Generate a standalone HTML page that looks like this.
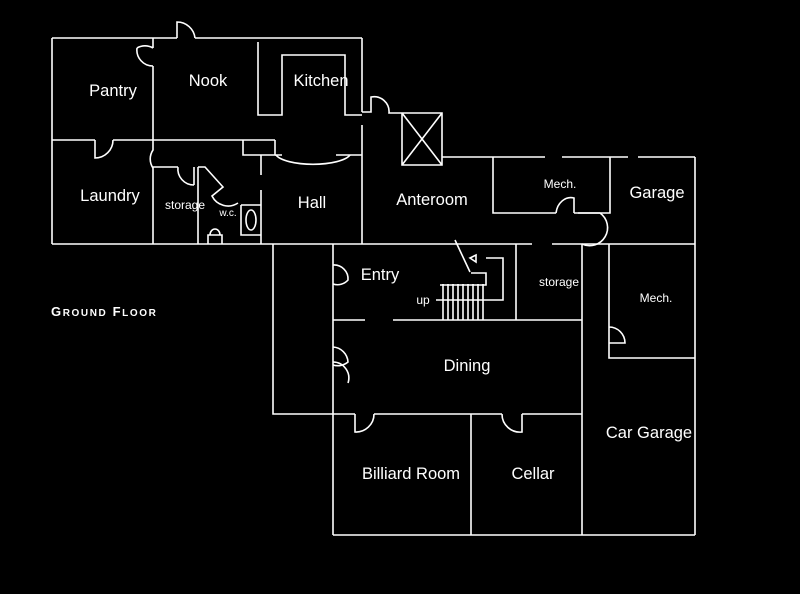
<!DOCTYPE html>
<html><head><meta charset="utf-8"><style>
html,body{margin:0;padding:0;background:#000;width:800px;height:594px;overflow:hidden}
svg{display:block}
text{fill:#fff;font-family:"Liberation Sans",sans-serif}
</style></head><body>
<svg width="800" height="594" viewBox="0 0 800 594" xmlns="http://www.w3.org/2000/svg">
<g stroke="#fff" stroke-width="1.6" fill="none">
<path d="M52 38H177 M195 38H362 M52 38V244 M362 38V112 M362 125V244"/>
<path d="M177 38V22 A18 18 0 0 1 195 38"/>
<path d="M153 38V48 M153 66V140 M153 48A16 16 0 0 0 137 48 M137 48 A16 16 0 0 0 153 66"/>
<path d="M52 140H95 M113 140H243 M95 140V158 A18 18 0 0 0 113 140"/>
<path d="M243 140V155H275V140 M243 140H275"/>
<path d="M275 155H282 M336 155H362"/>
<path d="M276 155 A38 12 0 0 0 350 155"/>
<path d="M153 140V150 A16 16 0 0 0 153 168"/>
<path d="M153 167H178 M178 167 A16 16 0 0 0 194 185 M194 185V167 M153 167V244"/>
<path d="M198 167V244 M198 167H205 L223 187 L212 196 A18 18 0 0 0 238 203"/>
<path d="M241 205H261 M241 205V235H261 M261 155V175 M261 190V244"/>
<ellipse cx="251" cy="220" rx="5" ry="10"/>
<path d="M208 244V235H222V244 M210 235 A5 6 0 1 1 220 235"/>
<path d="M52 244H362"/>
<path d="M258 42V115H282V55H345V115H362"/>
<path d="M362 112H371V97 A15 15 0 0 1 389 113H402 M402 113H442V165H402Z M402 113L442 165 M442 113L402 165 M442 157H455"/>
<path d="M455 157H545 M562 157H628 M638 157H695"/>
<path d="M493 157V213H556 M574 213H610V157 M556 213 A15 18 0 0 1 574 198V213"/>
<path d="M578 213H600 A18 18 0 0 1 582 244"/>
<path d="M695 157V535"/>
<path d="M362 244H532 M552 244H582 M582 244H695 M273 244V414H333 M333 244V535"/>
<path d="M609 244V358H695 M609 327A16 16 0 0 1 625 343H609"/>
<path d="M516 244V320 M582 244V535"/>
<path d="M333 320H365 M393 320H582"/>
<path d="M333 265A14 14 0 0 1 348 280 A14 14 0 0 1 333 284"/>
<path d="M333 347A16 16 0 0 1 348 362 A16 16 0 0 1 333 365 M333 362A16 16 0 0 1 348 383"/>
<path d="M443 284V320 M448 284V320 M453 284V320 M458 284V320 M463 284V320 M468 284V320 M473 284V320 M478 284V320 M483 284V320"/>
<path d="M440 285H486V273H471 M486 258H503V300H436"/>
<path d="M455 240L470 272 M470 258L476 255L476 262Z"/>
<path d="M333 414H355 M374 414H502 M522 414H582"/>
<path d="M355 414V432 A18 18 0 0 0 374 414 M502 414 A18 18 0 0 0 522 432V414"/>
<path d="M471 414V535 M333 535H695"/>
</g>
<g font-size="16.5" text-anchor="middle">
<text x="113" y="96">Pantry</text>
<text x="208" y="86">Nook</text>
<text x="321" y="86">Kitchen</text>
<text x="110" y="201">Laundry</text>
<text x="312" y="208">Hall</text>
<text x="432" y="205">Anteroom</text>
<text x="657" y="198">Garage</text>
<text x="380" y="280">Entry</text>
<text x="467" y="371">Dining</text>
<text x="649" y="438">Car Garage</text>
<text x="411" y="479">Billiard Room</text>
<text x="533" y="479">Cellar</text>
</g>
<g font-size="12" text-anchor="middle">
<text x="185" y="209">storage</text>
<text x="559" y="286">storage</text>
<text x="560" y="188">Mech.</text>
<text x="656" y="302">Mech.</text>
<text x="423" y="304">up</text>
<text x="228" y="216" font-size="10">w.c.</text>
</g>
<text x="51" y="316" font-size="13" letter-spacing="1.6" font-weight="bold">G<tspan font-size="10">ROUND</tspan> F<tspan font-size="10">LOOR</tspan></text>
</svg>
</body></html>
